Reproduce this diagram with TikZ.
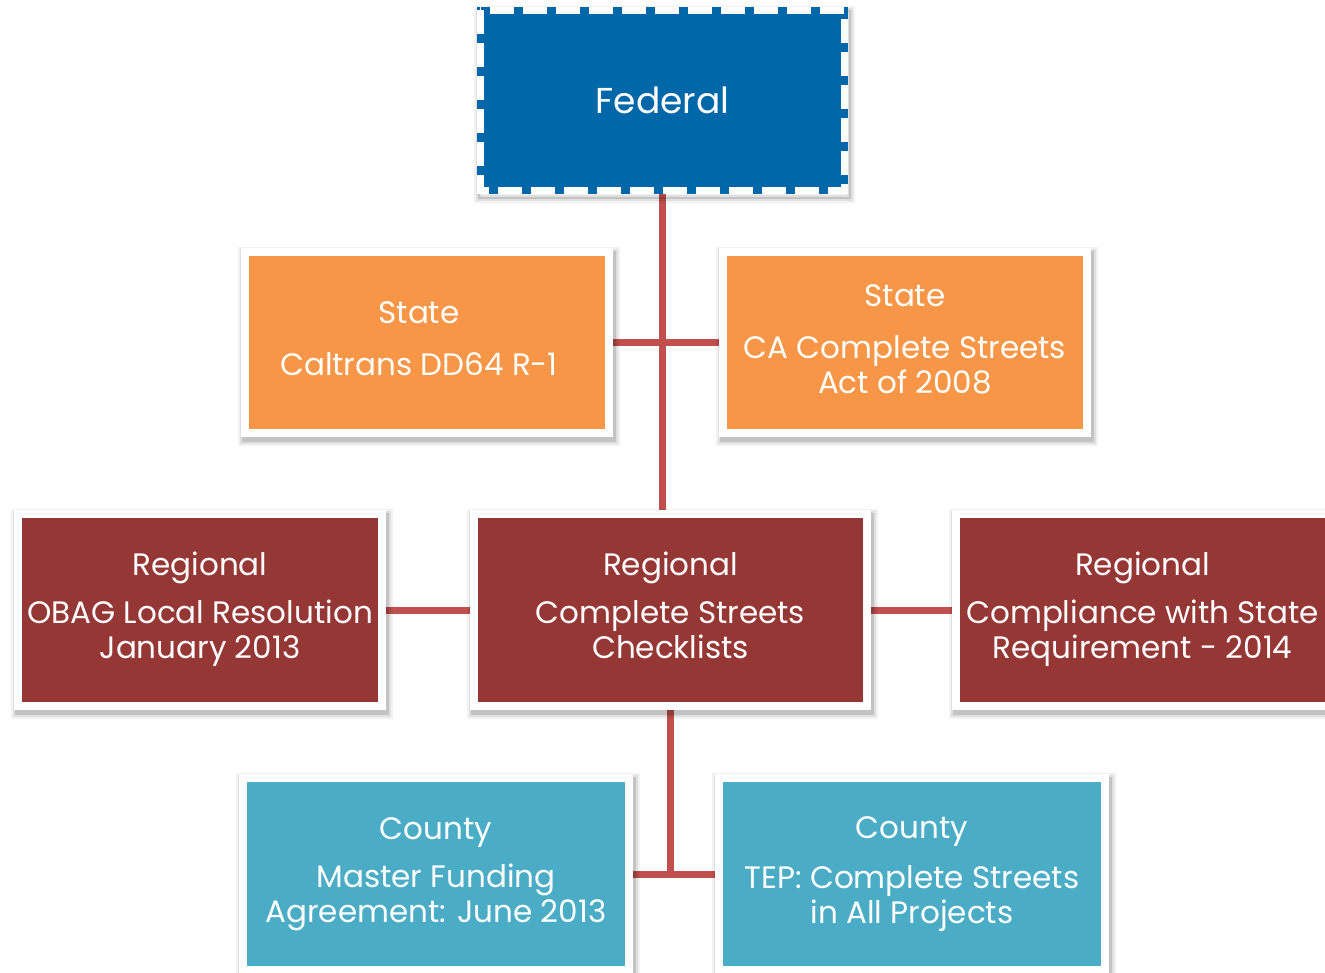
\documentclass[tikz,border=0pt]{standalone}
\usepackage{fontspec}
\setmainfont{Poppins}
\pgfdeclarelayer{background}
\pgfsetlayers{background,main}
\definecolor{fedblue}{HTML}{0067A9}
\definecolor{stateor}{HTML}{F79646}
\definecolor{regred}{HTML}{953735}
\definecolor{cntyteal}{HTML}{4BACC6}
\definecolor{linkred}{HTML}{C0504D}
\begin{document}
\begin{tikzpicture}[x=1pt,y=-1pt,
  softshadow/.style={
    preaction={draw=black, draw opacity=0.05, fill=none, line width=#1+10pt, transform canvas={shift={(1.5pt,-4pt)}}},
    preaction={draw=black, draw opacity=0.08, fill=none, line width=#1+6pt, transform canvas={shift={(1.5pt,-4pt)}}},
    preaction={draw=black, draw opacity=0.12, fill=none, line width=#1+2pt, transform canvas={shift={(1.5pt,-4pt)}}}},
  box/.style={draw=white, line width=8pt, inner sep=0pt, align=center, text=white,
    font=\fontsize{31}{35}\selectfont, softshadow=8pt},
  fedbox/.style={fill=fedblue, inner sep=0pt, text=white, font=\fontsize{36}{40}\selectfont,
    minimum width=371pt, minimum height=187pt, softshadow=0pt},
  fedborder/.style={draw=white, line width=7pt, dash pattern=on 24pt off 9pt},
  link/.style={draw=linkred, line width=7pt}
]
\useasboundingbox (0,0) rectangle (1325,972);

\node[fedbox] (fed) at (662.5,100.5) {Federal};
\draw[fedborder] ([shift={(3.5,3.5)}]fed.north west) rectangle ([shift={(-3.5,-3.5)}]fed.south east);

\node[box, fill=stateor, minimum width=364pt, minimum height=181pt] (stl) at (427,342.5)
  {\strut State\hspace*{16pt}\\[17pt]Caltrans DD64 R-1\hspace*{16pt}\strut};
\node[box, fill=stateor, minimum width=364pt, minimum height=181pt] (str) at (905,342.5)
  {\strut State\\[17pt]CA Complete Streets\\Act of 2008\strut};

\node[box, fill=regred, minimum width=364pt, minimum height=192pt] (regl) at (200,610)
  {\strut Regional\\[13pt]OBAG Local Resolution\\January 2013\strut};
\node[box, fill=regred, minimum width=393pt, minimum height=192pt] (regc) at (670.5,610)
  {\strut Regional\\[13pt]Complete Streets\\Checklists\strut};
\node[box, fill=regred, minimum width=373pt, minimum height=192pt] (regr) at (1142.5,610)
  {\strut Regional\\[13pt]Compliance with State\\Requirement - 2014\strut};

\node[box, fill=cntyteal, minimum width=386pt, minimum height=192pt] (cl) at (436,874)
  {\strut County\\[13pt]Master Funding\\Agreement: June 2013\strut};
\node[box, fill=cntyteal, minimum width=386pt, minimum height=192pt] (cr) at (912,874)
  {\strut County\\[15pt]TEP: Complete Streets\\in All Projects\strut};

\begin{pgfonlayer}{background}
  \fill[white] (0,0) rectangle (1325,972);
  \draw[link] (fed.south) -- (fed.south |- regc.north);
  \draw[link] (stl.east) -- (str.west);
  \draw[link] (regl.east) -- (regc.west);
  \draw[link] (regc.east) -- (regr.west);
  \draw[link] (regc.south) -- (regc.south |- cl.east);
  \draw[link] (cl.east) -- (cr.west);
\end{pgfonlayer}
\end{tikzpicture}
\end{document}
